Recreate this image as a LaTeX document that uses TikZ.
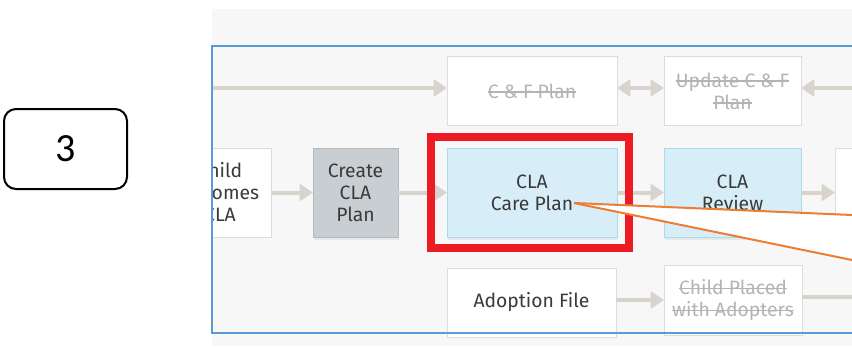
\documentclass[tikz,border=0pt]{standalone}
\usepackage{fontspec}
\setmainfont{Fira Sans}
\newfontfamily\slidefont{Carlito}
\usetikzlibrary{calc}
\usetikzlibrary{positioning}
\usetikzlibrary{arrows.meta}
\usetikzlibrary{shadows}

\newlength\strikelen
\newcommand{\struck}[1]{\settowidth{\strikelen}{#1}\rlap{\rule[0.28em]{\strikelen}{0.07em}}#1}

\definecolor{panelbg}{HTML}{F7F7F7}
\definecolor{boxline}{HTML}{DCDCDC}
\definecolor{textdark}{HTML}{3A3A3A}
\definecolor{textpale}{HTML}{B4B4B4}
\definecolor{flowgray}{HTML}{D8D3CC}
\definecolor{careblue}{HTML}{D7EEF8}
\definecolor{careline}{HTML}{A8DBEF}
\definecolor{creategray}{HTML}{C8CED2}
\definecolor{createline}{HTML}{B3B9BD}
\definecolor{framblue}{HTML}{5B9BD5}
\definecolor{markred}{HTML}{ED1C24}
\definecolor{callorange}{HTML}{ED7D31}

\begin{document}
\begin{tikzpicture}[x=0.75pt,y=-0.75pt,
    every node/.style={align=center,font=\fontsize{14.5}{16.5}\selectfont,text=textdark},
    box/.style={draw=boxline,fill=white,line width=0.75pt,inner sep=0pt,outer sep=0pt,minimum height=66.75pt},
    pale/.style={box,text=textpale},
    current/.style={box,draw=careline,fill=careblue,drop shadow={opacity=0.12,shadow xshift=1pt,shadow yshift=-2pt}},
    done/.style={box,draw=createline,fill=creategray,drop shadow={opacity=0.12,shadow xshift=1pt,shadow yshift=-2pt}},
    flow/.style={draw=flowgray,line width=3pt,-{Triangle[length=10pt,width=12.5pt]}},
    flowboth/.style={flow,{Triangle[length=10pt,width=12.5pt]}-{Triangle[length=10pt,width=12.5pt]}},
    flowline/.style={draw=flowgray,line width=3pt},
    slidebox/.style={draw=black,line width=1.5pt,rounded corners=9pt,minimum width=92.25pt,minimum height=60pt,font=\slidefont\fontsize{30}{36}\selectfont,text=black},
    callout/.style={draw=callorange,line width=1.5pt}]
\useasboundingbox (0,0) rectangle (852,346);

\node[slidebox] (step3) at (65.5,149) {3};

\fill[panelbg] (212,9) rectangle (852,346);
\begin{scope}
\clip (212,9) rectangle (852,346);
% top row
\node[pale,minimum width=127.5pt,minimum height=51pt] (cfplan) at (532,91) {\struck{C \& F Plan}};
\node[pale,minimum width=102.75pt,minimum height=51pt] (updatecf) at (732.5,91) {\struck{Update C \& F}\\\struck{Plan}};
% middle row
\node[box,minimum width=76.5pt] (child) at (220,192.5) {Child\\becomes\\CLA};
\node[done,minimum width=63.75pt] (create) at (355.5,192.5) {Create\\CLA\\Plan};
\node[current,minimum width=127.5pt] (careplan) at (532,192.5) {CLA\\Care Plan};
\node[current,minimum width=102.75pt] (review) at (732.5,192.5) {CLA\\Review};
\node[box,minimum width=52.5pt] (next) at (870,192.5) {};
% bottom row
\node[box,minimum width=126.75pt,minimum height=51.75pt] (adoption) at (531.5,302.5) {Adoption File};
\node[pale,minimum width=103.5pt,minimum height=52.5pt] (placed) at (733,300) {\struck{Child Placed}\\\struck{with Adopters}};

\coordinate (topin) at (200,88);
\coordinate (topright) at (870,88);
\coordinate (botright) at (870,297);
\draw[flow] (topin) -- (topin -| cfplan.west);
\draw[flowboth] (cfplan.east |- topin) -- (updatecf.west |- topin);
\draw[flow] (topright) -- (updatecf.east |- topright);
\draw[flow] (child) -- (create);
\draw[flow] (create) -- (careplan);
\draw[flow] (careplan) -- (review);
\draw[flow] (review) -- (next);
\draw[flow] (adoption.east |- placed) -- (placed.west);
\draw[flowline] (placed.east |- botright) -- (botright);
\end{scope}

% frames
\draw[framblue,line width=1.5pt] (870,46) -| (212,333) -- (870,333);
\draw[markred,line width=6pt] (431,137) rectangle (629,248);

% callout
\coordinate (tip) at (574,203);
\coordinate (c1) at (852,215);
\coordinate (c2) at (852,260);
\fill[white] (tip) -- (c1) -- (c2) -- cycle;
\draw[callout] (c1) -- (tip);
\draw[callout] (tip) -- (c2);
\end{tikzpicture}
\end{document}
